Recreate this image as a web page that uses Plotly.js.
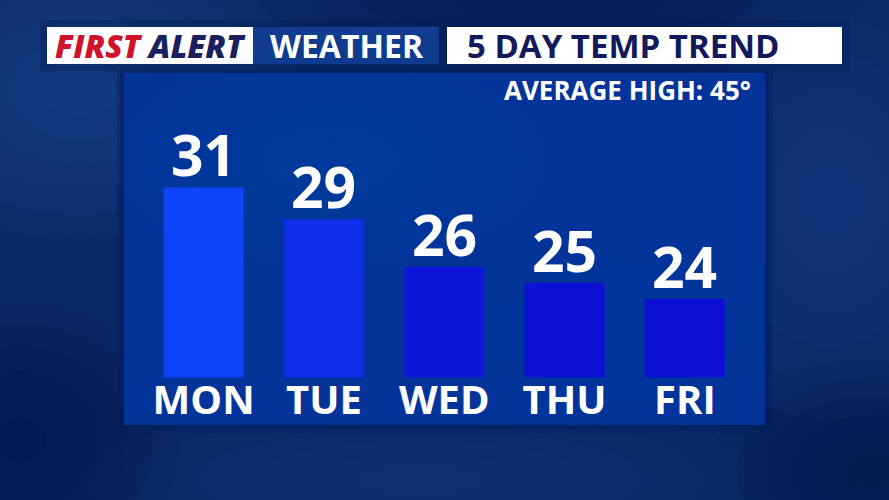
<!DOCTYPE html>
<html>
<head>
<meta charset="utf-8">
<script src="https://cdn.plot.ly/plotly-3.0.1.min.js"></script>
<style>html,body{margin:0;padding:0;background:#0a2868;}#chart{width:889px;height:500px;}</style>
</head>
<body>
<div id="chart"></div>
<script>
// ---- data ----
const days = ["MON", "TUE", "WED", "THU", "FRI"];
const highs = [31, 29, 26, 25, 24];
const headerBrand = ["FIRST", "ALERT"];
const headerSection = "WEATHER";
const chartTitle = "5 DAY TEMP TREND";
const averageHigh = 45;

// ---- style ----
const barColors = ["#0d45fb", "#102ee9", "#0d16d6", "#0e10d4", "#0e10d4"];
const W = 889, H = 500;
const px = x => x / W;
const py = y => 1 - y / H;
const FONT = "Open Sans, Noto Sans, DejaVu Sans, sans-serif";

function rect(x0, y0, x1, y1, color, opacity) {
  return {type: "rect", xref: "paper", yref: "paper", layer: "below",
    x0: px(x0), x1: px(x1), y0: py(y1), y1: py(y0),
    fillcolor: color, opacity: opacity === undefined ? 1 : opacity, line: {width: 0}};
}
// soft blob: stacked concentric ellipses with low opacity
function softBlob(cx, cy, rx, ry, color, opacity, steps) {
  const out = [];
  const n = steps || 6;
  for (let k = 0; k < n; k++) {
    const f = 1 - k / n;
    out.push({type: "circle", xref: "paper", yref: "paper", layer: "below",
      x0: px(cx - rx * f), x1: px(cx + rx * f), y0: py(cy + ry * f), y1: py(cy - ry * f),
      fillcolor: color, opacity: opacity / n, line: {width: 0}});
  }
  return out;
}

const shapes = [].concat(
  // cloudy background texture
  softBlob(80, 90, 220, 150, "#2a5ab0", 0.45),
  softBlob(830, 200, 170, 220, "#2a56a8", 0.35),
  softBlob(420, 480, 340, 80, "#23509f", 0.3),
  softBlob(870, 470, 160, 110, "#020f38", 0.6),
  softBlob(20, 440, 160, 140, "#020f38", 0.55),
  softBlob(560, 5, 300, 40, "#03154a", 0.5),
  [
    // header shadow band
    rect(40, 20, 850, 71, "#021a52", 0.35),
    // header boxes
    rect(47, 27, 253, 64, "#ffffff"),
    rect(253, 27, 439, 64, "#103b8f"),
    rect(447, 27, 842, 64, "#ffffff"),
    // panel shadow + panel
    rect(117, 69, 773, 433, "#021a55", 0.3),
    rect(120, 71, 769, 429, "#021a55", 0.3),
    rect(124, 73, 765, 425, "#04349a")
  ],
  softBlob(330, 160, 220, 110, "#0b48b2", 0.2),
  softBlob(620, 330, 180, 100, "#0b48b2", 0.15)
);

const annotations = [
  {xref: "paper", yref: "paper", x: px(53), y: py(46), xanchor: "left", yanchor: "middle",
   text: '<span style="color:#d0122c">' + headerBrand[0] + '</span> ' + headerBrand[1],
   showarrow: false, font: {family: FONT, size: 32, color: "#1a1f5e", weight: 800, style: "italic"}},
  {xref: "paper", yref: "paper", x: px(347), y: py(46), xanchor: "center", yanchor: "middle",
   text: headerSection, showarrow: false,
   font: {family: FONT, size: 32, color: "#ffffff", weight: 700}},
  {xref: "paper", yref: "paper", x: px(753), y: py(90), xanchor: "right", yanchor: "middle",
   text: "AVERAGE HIGH: " + averageHigh + "°", showarrow: false,
   font: {family: FONT, size: 26, color: "#ffffff", weight: 700}}
];
days.forEach((d, i) => {
  annotations.push({xref: "x", yref: "y", x: d, y: highs[i], xanchor: "center", yanchor: "bottom",
    yshift: -8, text: String(highs[i]), showarrow: false,
    font: {family: FONT, size: 57, color: "#ffffff", weight: 700}});
});

const trace = {
  type: "bar", x: days, y: highs, base: 0,
  marker: {color: barColors, line: {width: 0}},
  hoverinfo: "skip"
};

const layout = {
  width: W, height: H,
  margin: {l: 0, r: 0, t: 0, b: 0},
  paper_bgcolor: "#0a2868",
  plot_bgcolor: "rgba(0,0,0,0)",
  showlegend: false,
  bargap: 0.335,
  title: {text: chartTitle, xref: "container", yref: "container",
    x: px(467), xanchor: "left", y: py(46), yanchor: "middle",
    font: {family: FONT, size: 33, color: "#121a5c", weight: 700}},
  xaxis: {domain: [px(143.5), px(745)], showgrid: false, zeroline: false, showline: false,
    ticks: "", ticklabelstandoff: -5,
    tickfont: {family: FONT, size: 40, color: "#ffffff", weight: 700},
    fixedrange: true},
  yaxis: {domain: [py(377.5), py(72)], range: [19.07, 38.25], showgrid: false, zeroline: false,
    showline: false, showticklabels: false, ticks: "", fixedrange: true},
  shapes: shapes,
  annotations: annotations
};

Plotly.newPlot("chart", [trace], layout, {displayModeBar: false, staticPlot: true});
</script>
</body>
</html>
